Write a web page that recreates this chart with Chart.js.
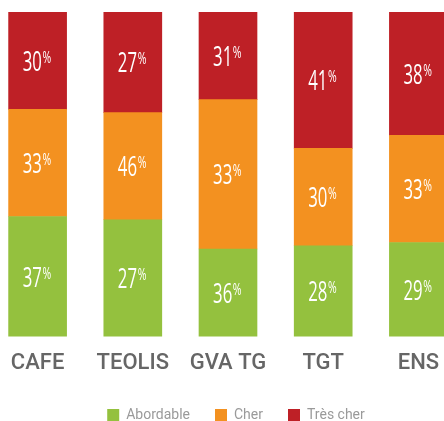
<!DOCTYPE html>
<html>
<head>
<meta charset="utf-8">
<script src="https://cdn.jsdelivr.net/npm/chart.js@4/dist/chart.umd.min.js"></script>
<style>
  html, body { margin: 0; padding: 0; background: #fff; overflow: hidden; }
  #wrap { position: absolute; left: -10.5px; top: 0; width: 476px; height: 432px; }
</style>
</head>
<body>
<div id="wrap"><canvas id="priceChart"></canvas></div>
<script>
// Categories
const sites = ['CAFE', 'TEOLIS', 'GVA TG', 'TGT', 'ENS'];

// Bar segment heights as drawn (percent)
const abordable = [37, 36, 27, 28, 29];
const cher      = [33, 33, 46, 30, 33];
const tresCher  = [30, 31, 27, 42, 38];

// Percentages printed inside the segments
const abordableLabels = [37, 27, 36, 28, 29];
const cherLabels      = [33, 46, 33, 30, 33];
const tresCherLabels  = [30, 27, 31, 41, 38];

const GREEN = '#94c13e';
const ORANGE = '#f39120';
const RED = '#be2026';

// Draw "37%" style labels, small superscript percent sign
const valueLabels = {
  id: 'valueLabels',
  afterLayout(chart) {
    // nudge the legend a little to the right like the original
    chart.legend.left += 8;
    chart.legend.right += 8;
  },
  afterDatasetsDraw(chart) {
    const ctx = chart.ctx;
    chart.data.datasets.forEach((ds, i) => {
      const meta = chart.getDatasetMeta(i);
      meta.data.forEach((bar, j) => {
        const txt = String(ds.printed[j]);
        const cy = (bar.y + bar.base) / 2;
        ctx.save();
        ctx.translate(bar.x - 1, cy);
        ctx.scale(0.62, 1);
        ctx.fillStyle = '#fff';
        ctx.textAlign = 'left';
        ctx.textBaseline = 'alphabetic';
        ctx.font = '27px "Open Sans"';
        const nw = ctx.measureText(txt).width;
        ctx.font = '17px "Open Sans"';
        const pw = ctx.measureText('%').width;
        const start = -(nw + pw) / 2;
        ctx.font = '27px "Open Sans"';
        ctx.fillText(txt, start, 10);
        ctx.font = '17px "Open Sans"';
        ctx.fillText('%', start + nw + 1, 2);
        ctx.restore();
      });
    });
  }
};

const ctx = document.getElementById('priceChart').getContext('2d');
const chart = new Chart(ctx, {
  type: 'bar',
  data: {
    labels: sites,
    datasets: [
      { label: 'Abordable', data: abordable, printed: abordableLabels, backgroundColor: GREEN },
      { label: 'Cher', data: cher, printed: cherLabels, backgroundColor: ORANGE },
      { label: 'Très cher', data: tresCher, printed: tresCherLabels, backgroundColor: RED }
    ]
  },
  options: {
    responsive: true,
    maintainAspectRatio: false,
    animation: false,
    layout: { padding: { top: 12, bottom: 0, left: 0, right: 0 } },
    datasets: {
      bar: { barThickness: 58, borderWidth: 0 }
    },
    scales: {
      x: {
        stacked: true,
        grid: { display: false, drawTicks: false },
        border: { display: false },
        afterFit(scale) { scale.height -= 8; },
        ticks: {
          color: '#666666',
          padding: 14,
          font: { family: 'Roboto', size: 22, weight: '500' }
        }
      },
      y: {
        stacked: true,
        display: false,
        min: 0,
        max: 100
      }
    },
    plugins: {
      legend: {
        position: 'bottom',
        labels: {
          boxWidth: 12,
          boxHeight: 12,
          padding: 25,
          color: '#9a9a9a',
          font: { family: 'Roboto', size: 14 }
        }
      },
      tooltip: { enabled: false }
    }
  },
  plugins: [valueLabels]
});
</script>
</body>
</html>
